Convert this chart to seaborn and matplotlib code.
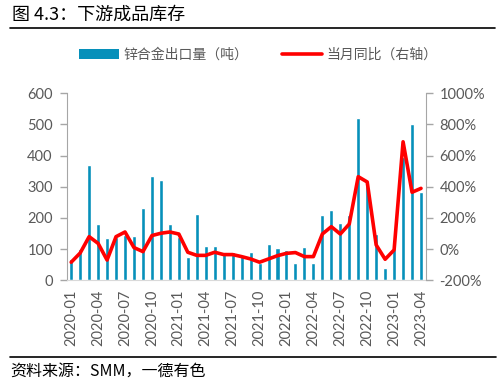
import numpy as np
import pandas as pd
import matplotlib
matplotlib.use("Agg")
import matplotlib.pyplot as plt
import seaborn as sns
from matplotlib.ticker import FuncFormatter, FixedLocator
from matplotlib.lines import Line2D
from matplotlib.patches import Patch

#%% DATA
months = [f"{y}-{m:02d}" for y in (2020, 2021, 2022, 2023) for m in range(1, 13)][:40]

# 锌合金出口量（吨）
export_t = [68, 99, 369, 181, 135, 140, 145, 143, 231, 335,
            321, 181, 140, 76, 213, 109, 109, 90, 92, 81,
            90, 57, 117, 105, 97, 57, 107, 57, 210, 224,
            183, 210, 520, 310, 148, 38, 100, 395, 500, 284]

# 当月同比（%）
yoy_pct = [-84, -25, 80, 37, -70, 80, 110, 10, -16, 87,
           102, 110, 97, -20, -40, -40, -20, -35, -35, -48,
           -63, -84, -63, -42, -27, -22, -48, -48, 97, 144,
           97, 161, 465, 431, 27, -65, -5, 689, 365, 390]

df = pd.DataFrame({"month": months, "export": export_t, "yoy": yoy_pct})
df["pos"] = np.arange(len(df))

#%% STYLE
sns.set_style("white")
plt.rcParams["font.family"] = ["Lato", "Noto Sans CJK SC", "DejaVu Sans"]
cjk = ["Noto Sans CJK SC", "DejaVu Sans"]
bar_c = "#0690BA"
red = "#FF0000"
grey_txt = "#595959"
grey_ax = "#A6A6A6"

fig = plt.figure(figsize=(5.04, 3.80), dpi=100)
ax = fig.add_axes([66.7 / 504, 99.7 / 380, 358.8 / 504, 187 / 380])

#%% BARS
sns.barplot(data=df, x="pos", y="export", color=bar_c, width=0.45,
            saturation=1, ax=ax, native_scale=True)
ax.set_xlim(-0.5, 39.5)
ax.set_ylim(0, 600)
ax.set_yticks(range(0, 601, 100))

#%% LINE
ax2 = ax.twinx()
sns.lineplot(data=df, x="pos", y="yoy", color=red, linewidth=2.6, ax=ax2)
ax2.set_ylim(-200, 1000)
ax2.set_yticks(range(-200, 1001, 200))
ax2.yaxis.set_major_formatter(FuncFormatter(lambda v, p: f"{v:.0f}%"))
ax2.set_xlim(-0.5, 39.5)

for a in (ax, ax2):
    a.set_xlabel("")
    a.set_ylabel("")
    for s in a.spines.values():
        s.set_visible(False)
    a.tick_params(axis="y", length=5, width=1, color=grey_ax,
                  labelcolor=grey_txt, labelsize=10.5, pad=5)

ax.spines["left"].set_visible(True)
ax.spines["left"].set_color(grey_ax)
ax.spines["bottom"].set_visible(True)
ax.spines["bottom"].set_color("#D9D9D9")
ax2.spines["right"].set_visible(True)
ax2.spines["right"].set_color(grey_ax)

# x ticks: marks on quarter boundaries, labels under every 3rd month
ax.xaxis.set_major_locator(FixedLocator(np.arange(-0.5, 40, 3)))
ax.xaxis.set_major_formatter(FuncFormatter(lambda v, p: ""))
ax.set_xticks(df["pos"][::3], labels=df["month"][::3], minor=True)
ax.tick_params(axis="x", which="major", length=5, color="#D9D9D9", width=1)
ax.tick_params(axis="x", which="minor", length=0, labelcolor=grey_txt,
               labelsize=10.5, labelrotation=90, pad=7)

#%% LEGEND
handles = [Patch(facecolor=bar_c, edgecolor="none"),
           Line2D([0], [0], color=red, linewidth=2.6)]
fig.legend(handles, ["锌合金出口量（吨）", "当月同比（右轴）"],
           loc="center", bbox_to_anchor=(0.512, 0.855), ncol=2, frameon=False,
           prop={"family": cjk, "size": 10}, labelcolor=grey_txt,
           handlelength=2.9, handletextpad=0.3, columnspacing=2.4)

#%% TITLE / SOURCE
fig.text(12 / 504, 1 - 15 / 380, "图 4.3：下游成品库存", family=cjk,
         fontsize=13, va="center", ha="left", color="black")
fig.add_artist(Line2D([10 / 504, 495 / 504], [1 - 27.7 / 380] * 2,
                      color="black", linewidth=1.2))
fig.add_artist(Line2D([10 / 504, 496 / 504], [1 - 356.7 / 380] * 2,
                      color="black", linewidth=1.2))
fig.text(10 / 504, 1 - 371.5 / 380, "资料来源：SMM，一德有色", family=cjk,
         fontsize=11.5, va="center", ha="left", color="black")

fig.savefig("out.png", dpi=100)
